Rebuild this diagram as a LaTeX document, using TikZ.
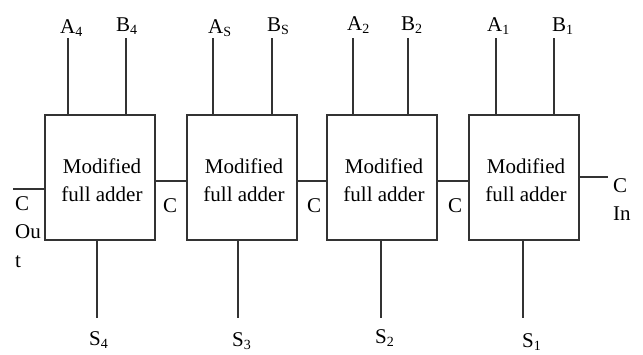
\documentclass[tikz,border=0pt]{standalone}
\usepackage{fontspec}
\setmainfont{Liberation Serif}
\begin{document}
\begin{tikzpicture}[x=1pt,y=-1pt,
  wire/.style={draw=black!80,line width=1.4pt},
  fabox/.style={draw=black!80,line width=1.4pt,minimum width=110pt,minimum height=125pt,inner sep=0pt},
  fatext/.style={align=center,inner sep=0pt,font=\fontsize{21}{28}\selectfont},
  lbl/.style={anchor=base west,inner sep=0pt,font=\fontsize{21}{24}\selectfont}]
\useasboundingbox (0,0) rectangle (643,354);
\newcommand{\sub}[1]{\textsubscript{\fontsize{14}{14}\selectfont #1}}
% boxes
\node[fabox] (b1) at (100,177.5) {};
\node[fabox] (b2) at (242,177.5) {};
\node[fabox] (b3) at (382,177.5) {};
\node[fabox] (b4) at (524,177.5) {};
\foreach \b in {b1,b2,b3,b4}
  \node[fatext] (t\b) at ([xshift=2pt,yshift=-3pt]\b.center) {Modified\\full adder};
% input line tops
\coordinate (a4) at (68,38);  \coordinate (bb4) at (126,38);
\coordinate (a3) at (213,38); \coordinate (bb3) at (272,38);
\coordinate (a2) at (353,38); \coordinate (bb2) at (408,38);
\coordinate (a1) at (496,38); \coordinate (bb1) at (554,38);
\foreach \c/\b in {a4/b1,bb4/b1,a3/b2,bb3/b2,a2/b3,bb2/b3,a1/b4,bb1/b4}
  \draw[wire] (\c) -- (\c |- \b.north);
% output line ends
\coordinate (s4) at (97,318);  \coordinate (s3) at (238,318);
\coordinate (s2) at (381,318); \coordinate (s1) at (523,318);
\foreach \c/\b in {s4/b1,s3/b2,s2/b3,s1/b4}
  \draw[wire] (\c |- \b.south) -- (\c);
% carry lines
\draw[wire] ([yshift=-3.5pt]b1.east) -- ([yshift=-3.5pt]b2.west);
\draw[wire] ([yshift=-3.5pt]b2.east) -- ([yshift=-3.5pt]b3.west);
\draw[wire] ([yshift=-3.5pt]b3.east) -- ([yshift=-3.5pt]b4.west);
\coordinate (cout) at (13,189);
\draw[wire] (cout) -- (cout -| b1.west);
\coordinate (cin) at (608,177);
\draw[wire] (cin -| b4.east) -- (cin);
% labels top
\node[lbl] (la4) at (60,33) {A\sub{4}};
\node[lbl] (lb4) at (116,31) {B\sub{4}};
\node[lbl] (la3) at (208,33) {A\sub{S}};
\node[lbl] (lb3) at (267,31) {B\sub{S}};
\node[lbl] (la2) at (347,30) {A\sub{2}};
\node[lbl] (lb2) at (401,30) {B\sub{2}};
\node[lbl] (la1) at (487,31) {A\sub{1}};
\node[lbl] (lb1) at (552,31) {B\sub{1}};
% labels bottom
\node[lbl] (ls4) at (89,345) {S\sub{4}};
\node[lbl] (ls3) at (232,346) {S\sub{3}};
\node[lbl] (ls2) at (375,343) {S\sub{2}};
\node[lbl] (ls1) at (522,347) {S\sub{1}};
% carry labels
\node[lbl] (lc1) at (163,212) {C};
\node[lbl] (lc2) at (307,212) {C};
\node[lbl] (lc3) at (448,212) {C};
\node[lbl] (lco1) at (15,210) {C};
\node[lbl] (lco2) at (15,238) {Ou};
\node[lbl] (lco3) at (15,267) {t};
\node[lbl] (lci1) at (613,192) {C};
\node[lbl] (lci2) at (613,220) {In};
\end{tikzpicture}
\end{document}
